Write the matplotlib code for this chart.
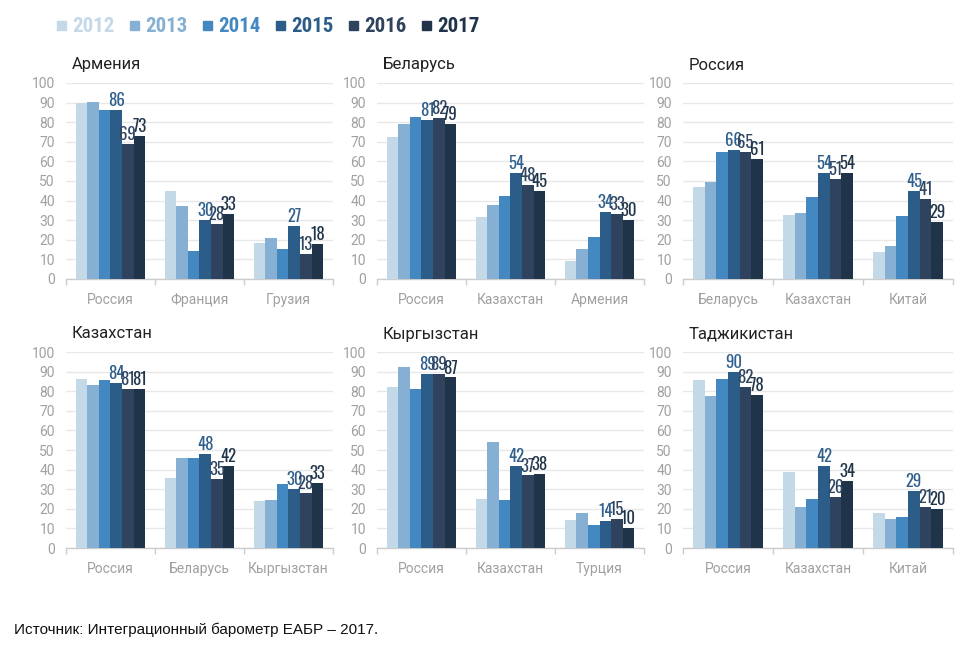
import matplotlib
matplotlib.use("Agg")
import matplotlib.pyplot as plt
from matplotlib.font_manager import FontProperties
import numpy as np

years = ["2012", "2013", "2014", "2015", "2016", "2017"]
labeled_years = ["2015", "2016", "2017"]

titles = ["Армения", "Беларусь", "Россия", "Казахстан", "Кыргызстан", "Таджикистан"]
categories = [
    ["Россия", "Франция", "Грузия"],
    ["Россия", "Казахстан", "Армения"],
    ["Беларусь", "Казахстан", "Китай"],
    ["Россия", "Беларусь", "Кыргызстан"],
    ["Россия", "Казахстан", "Турция"],
    ["Россия", "Казахстан", "Китай"],
]
# values[panel][category] = [2012..2017]
armenia = [[90, 90.5, 86, 86, 69, 73],
           [45, 37, 14.5, 30, 28, 33],
           [18.5, 21, 15.5, 27, 13, 18]]
belarus = [[72.5, 79, 82.5, 81, 82, 79],
           [31.5, 38, 42.5, 54, 48, 45],
           [9, 15.5, 21.5, 34, 33, 30]]
russia = [[47, 49.5, 65, 66, 65, 61],
          [32.5, 33.5, 42, 54, 51, 54],
          [14, 17, 32, 45, 41, 29]]
kazakhstan = [[86, 83, 85.5, 84, 81, 81],
              [35.5, 46, 46, 48, 35, 42],
              [24, 24.5, 32.5, 30, 28, 33]]
kyrgyzstan = [[82, 92.5, 81, 89, 89, 87],
              [25, 54, 24.5, 42, 37, 38],
              [14.5, 18, 11.5, 14, 15, 10]]
tajikistan = [[85.5, 77.5, 86, 90, 82, 78],
              [39, 21, 25, 42, 26, 34],
              [18, 15, 16, 29, 21, 20]]
panels = [armenia, belarus, russia, kazakhstan, kyrgyzstan, tajikistan]
yticks = [0, 10, 20, 30, 40, 50, 60, 70, 80, 90, 100]

colors = ["#c3d9e7", "#85b0d3", "#4388c0", "#2b5d88", "#2f425e", "#1f3349"]
label_colors = {"2015": "#2f5f8c", "2016": "#2f4562", "2017": "#1f3449"}

COND = ["Oswald", "Roboto Condensed", "DejaVu Sans"]
LEG = ["Roboto Condensed", "DejaVu Sans"]
REG = ["Roboto", "DejaVu Sans"]

W, H = 970, 646
fig = plt.figure(figsize=(W / 100, H / 100), dpi=100)
fig.patch.set_facecolor("white")

cond = FontProperties(family=COND, weight="medium", size=12)

col_left = [66, 377, 683]
col_w = [267, 267, 270]
row_top = [83, 352]
row_h = 196

ngroups = len(years)
group_w = 0.78
bw = group_w / ngroups

for i, (title, cats, vals) in enumerate(zip(titles, categories, panels)):
    r, c = divmod(i, 3)
    left = col_left[c] / W
    bottom = (H - row_top[r] - row_h) / H
    ax = fig.add_axes([left, bottom, col_w[c] / W, row_h / H])
    x = np.arange(len(cats))
    arr = np.array(vals)
    for j, yr in enumerate(years):
        pos = x - group_w / 2 + bw * (j + 0.5)
        ax.bar(pos, arr[:, j], width=bw, color=colors[j], linewidth=0, zorder=3)
        if yr in labeled_years:
            for p, v in zip(pos, arr[:, j]):
                ax.text(p, v + 0.5, f"{v:.0f}", ha="center", va="bottom",
                        fontproperties=cond, color=label_colors[yr], zorder=4)
    ax.set_ylim(0, 100)
    ax.set_xlim(-0.5, len(cats) - 0.5)
    ax.set_yticks(yticks)
    ax.yaxis.grid(True, color="#e8e8e8", linewidth=1, zorder=0)
    ax.set_axisbelow(True)
    for s in ["top", "right", "left"]:
        ax.spines[s].set_visible(False)
    ax.spines["bottom"].set_color("#cccccc")
    ax.spines["bottom"].set_linewidth(1)
    ax.tick_params(axis="y", length=0, labelsize=10, labelcolor="#a0a0a0", pad=8)
    ax.set_xticks(x)
    ax.set_xticklabels(cats)
    ax.tick_params(axis="x", length=0, labelsize=10, labelcolor="#a0a0a0", pad=10)
    ax.set_xticks(np.arange(-0.5, len(cats), 1.0), minor=True)
    ax.tick_params(axis="x", which="minor", length=4, color="#cccccc", width=1)
    for lab in ax.get_yticklabels() + ax.get_xticklabels():
        lab.set_family(REG)
    fig.text((col_left[c] + 6) / W, (H - row_top[r] + 18) / H, title,
             fontsize=12, color="#222222", ha="left", va="center",
             fontweight="normal", family=REG)

# legend
lx = 57
for j, yr in enumerate(years):
    fig.patches.append(plt.Rectangle((lx / W, (H - 30) / H), 9 / W, 9 / H,
                                     transform=fig.transFigure, color=colors[j], figure=fig))
    fig.text((lx + 15) / W, (H - 26) / H, yr, fontsize=15, fontweight="bold",
             color=colors[j], ha="left", va="center", family=LEG)
    lx += 73

fig.text(14 / W, (H - 630) / H, "Источник: Интеграционный барометр ЕАБР – 2017.",
         fontsize=11, color="#111111", ha="left", va="center", family=["Liberation Sans", "DejaVu Sans"])

fig.savefig("out.png", dpi=100, facecolor="white")
